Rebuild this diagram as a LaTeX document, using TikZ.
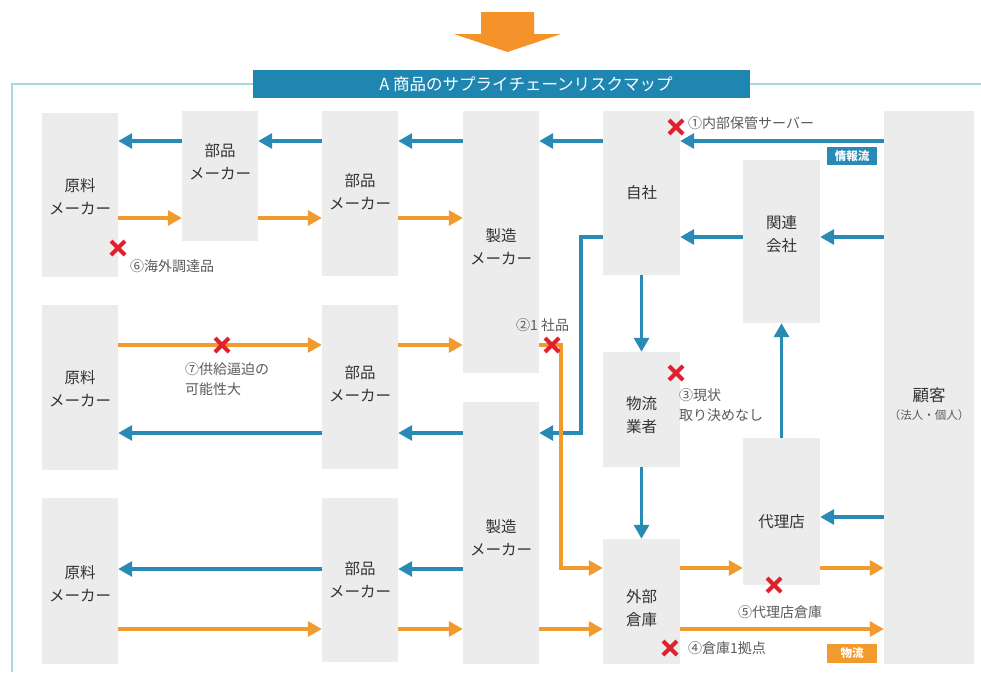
\documentclass[tikz,border=0pt]{standalone}
\usepackage{fontspec}
\setmainfont{Noto Sans CJK JP}
\usetikzlibrary{arrows.meta,calc}
\definecolor{boxgray}{HTML}{ECECEC}
\definecolor{flowblue}{HTML}{2A8AB6}
\definecolor{titleblue}{HTML}{1F86B2}
\definecolor{floworange}{HTML}{F19B2E}
\definecolor{toparrow}{HTML}{F5922A}
\definecolor{xred}{HTML}{E0202E}
\definecolor{framecol}{HTML}{A6D9DE}
\definecolor{txt}{HTML}{333333}
\definecolor{annot}{HTML}{5A5A5A}
\begin{document}
\begin{tikzpicture}[x=1pt,y=-1pt,
  box/.style={fill=boxgray, draw=none, inner sep=0pt, minimum width=76pt},
  btext/.style={text=txt, align=center, font=\fontsize{15.5}{23}\selectfont, inner sep=0pt},
  barrow/.style={draw=flowblue, line width=3.2pt, -{Triangle[length=14pt,width=15pt]}},
  oarrow/.style={draw=floworange, line width=3.2pt, -{Triangle[length=14pt,width=15pt]}},
  ann/.style={text=annot, font=\fontsize{14}{20}\selectfont, align=left, inner sep=0pt},
  tag/.style={text=white, font=\fontsize{11.5}{11.5}\selectfont\bfseries, inner sep=0pt, minimum width=50pt, minimum height=18pt},
  redx/.pic={\draw[xred, line width=4.2pt] (-7,-7) -- (7,7) (-7,7) -- (7,-7);}
]
\useasboundingbox (0,0) rectangle (981,672);

% top arrow
\fill[toparrow] (481,12) -- (534,12) -- (534,34) -- (561,34) -- (507.5,52) -- (454,34) -- (481,34) -- cycle;

% frame
\draw[framecol, line width=2.5pt] (12,672) -- (12,84) -- (981,84);

% title
\node[fill=titleblue, minimum width=497pt, minimum height=28pt, inner sep=0pt] (title) at (501.5,84) {};
\node[text=white, font=\fontsize{16.5}{16.5}\selectfont, inner sep=0pt] (titletext) at (526,84) {A 商品のサプライチェーンリスクマップ};

% boxes
\node[box, minimum height=164pt] (rm1) at (80,195) {};
\node[box, minimum height=165pt] (rm2) at (80,387.5) {};
\node[box, minimum height=166pt] (rm3) at (80,581) {};
\node[box, minimum height=130pt] (pm0) at (220,176) {};
\node[box, minimum height=165pt] (pm1) at (360,193.5) {};
\node[box, minimum height=164pt] (pm2) at (360,387) {};
\node[box, minimum height=164pt] (pm3) at (360,580) {};
\node[box, minimum height=262pt] (mf1) at (501,242) {};
\node[box, minimum height=262pt] (mf2) at (501,533) {};
\node[box, minimum width=77pt, minimum height=164pt] (own) at (641.5,193) {};
\node[box, minimum width=77pt, minimum height=115pt] (logi) at (641.5,409.5) {};
\node[box, minimum width=77pt, minimum height=125pt] (wh) at (641.5,601.5) {};
\node[box, minimum width=77pt, minimum height=163pt] (aff) at (781.5,241.5) {};
\node[box, minimum width=77pt, minimum height=147pt] (agt) at (781.5,511.5) {};
\node[box, minimum width=90pt, minimum height=553pt] (cust) at (929,387.5) {};

% box texts
\node[btext] (rm1t) at (80,197) {原料\\メーカー};
\node[btext] (rm2t) at (80,389) {原料\\メーカー};
\node[btext] (rm3t) at (80,584) {原料\\メーカー};
\node[btext] (pm0t) at (220,162) {部品\\メーカー};
\node[btext] (pm1t) at (360,192) {部品\\メーカー};
\node[btext] (pm2t) at (360,384) {部品\\メーカー};
\node[btext] (pm3t) at (360,580) {部品\\メーカー};
\node[btext] (mf1t) at (501,247) {製造\\メーカー};
\node[btext] (mf2t) at (501,538) {製造\\メーカー};
\node[btext] (ownt) at (641.5,193) {自社};
\node[btext] (logit) at (641.5,415) {物流\\業者};
\node[btext] (wht) at (641.5,608) {外部\\倉庫};
\node[btext] (afft) at (781.5,234) {関連\\会社};
\node[btext] (agtt) at (781.5,522) {代理店};
\node[btext, font=\fontsize{16.5}{16.5}\selectfont] (custt) at (929,395) {顧客};
\node[text=annot, font=\fontsize{11.5}{11.5}\selectfont, inner sep=0pt] (custs) at (929,415) {（法人・個人）};

% row coordinates
\coordinate (y141) at (0,141);
\coordinate (y218) at (0,218);
\coordinate (y237) at (0,237);
\coordinate (y345) at (0,345);
\coordinate (y433) at (0,433);
\coordinate (y517) at (0,517);
\coordinate (y568) at (0,568);
\coordinate (y569) at (0,569);
\coordinate (y629) at (0,629);
\coordinate (xb) at (581,0);
\coordinate (xo) at (561,0);

% blue (information) arrows
\draw[barrow] (pm0.west|-y141) -- (rm1.east|-y141);
\draw[barrow] (pm1.west|-y141) -- (pm0.east|-y141);
\draw[barrow] (mf1.west|-y141) -- (pm1.east|-y141);
\draw[barrow] (own.west|-y141) -- (mf1.east|-y141);
\draw[barrow] (cust.west|-y141) -- (own.east|-y141);
\draw[barrow] (cust.west|-y237) -- (aff.east|-y237);
\draw[barrow] (aff.west|-y237) -- (own.east|-y237);
\draw[barrow] (own.west|-y237) -- (xb|-y237) -- (xb|-y433) -- (mf2.east|-y433);
\draw[barrow] (own.south) -- (logi.north);
\draw[barrow] (logi.south) -- (wh.north);
\draw[barrow] (agt.north) -- (aff.south);
\draw[barrow] (cust.west|-y517) -- (agt.east|-y517);
\draw[barrow] (mf2.west|-y433) -- (pm2.east|-y433);
\draw[barrow] (pm2.west|-y433) -- (rm2.east|-y433);
\draw[barrow] (mf2.west|-y569) -- (pm3.east|-y569);
\draw[barrow] (pm3.west|-y569) -- (rm3.east|-y569);

% orange (goods) arrows
\draw[oarrow] (rm1.east|-y218) -- (pm0.west|-y218);
\draw[oarrow] (pm0.east|-y218) -- (pm1.west|-y218);
\draw[oarrow] (pm1.east|-y218) -- (mf1.west|-y218);
\draw[oarrow] (rm2.east|-y345) -- (pm2.west|-y345);
\draw[oarrow] (pm2.east|-y345) -- (mf1.west|-y345);
\draw[oarrow] (mf1.east|-y345) -- (xo|-y345) -- (xo|-y568) -- (wh.west|-y568);
\draw[oarrow] (rm3.east|-y629) -- (pm3.west|-y629);
\draw[oarrow] (pm3.east|-y629) -- (mf2.west|-y629);
\draw[oarrow] (mf2.east|-y629) -- (wh.west|-y629);
\draw[oarrow] (wh.east|-y568) -- (agt.west|-y568);
\draw[oarrow] (agt.east|-y568) -- (cust.west|-y568);
\draw[oarrow] (wh.east|-y629) -- (cust.west|-y629);

% risk markers
\pic at (676,127) {redx};
\pic at (118,248) {redx};
\pic at (222,345) {redx};
\pic at (552,345) {redx};
\pic at (676,373) {redx};
\pic at (774,585) {redx};
\pic at (670,648) {redx};

% annotations
\node[ann, anchor=west] (a1) at (688,123) {①内部保管サーバー};
\node[ann, anchor=west] (a6) at (130,266) {⑥海外調達品};
\node[ann, anchor=west] (a7) at (185,379) {⑦供給逼迫の\\可能性大};
\node[ann, anchor=west] (a2) at (516,325) {②1 社品};
\node[ann, anchor=west] (a3) at (679,405) {③現状\\取り決めなし};
\node[ann] (a5) at (780,612) {⑤代理店倉庫};
\node[ann, anchor=west] (a4) at (688,648) {④倉庫1拠点};

% legend tags
\node[tag, fill=flowblue] (tinfo) at (852,156) {情報流};
\node[tag, fill=floworange, minimum height=19pt] (tlogi) at (852,653.5) {物流};
\end{tikzpicture}
\end{document}
